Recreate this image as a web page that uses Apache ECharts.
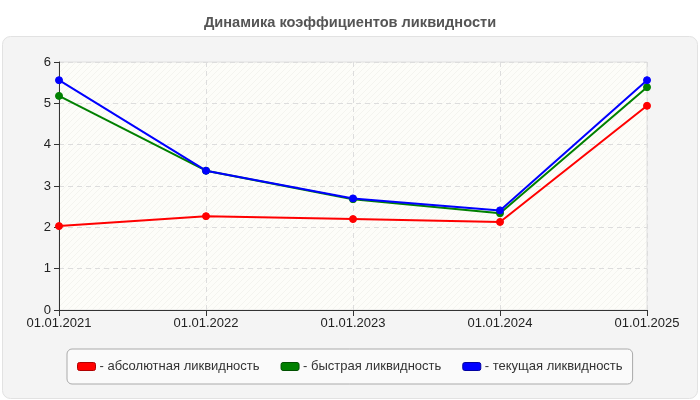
<!DOCTYPE html>
<html><head><meta charset="utf-8">
<script src="https://cdn.jsdelivr.net/npm/echarts@6/dist/echarts.min.js"></script>
<style>html,body{margin:0;padding:0;background:#fff}#c{width:700px;height:400px}</style>
</head><body><div id="c"></div>
<script>
var categories = ['01.01.2021','01.01.2022','01.01.2023','01.01.2024','01.01.2025'];
var absoluteLiq = [2.03, 2.27, 2.20, 2.13, 4.94];
var quickLiq = [5.18, 3.37, 2.68, 2.34, 5.39];
var currentLiq = [5.56, 3.37, 2.70, 2.41, 5.56];
var seriesNames = ['абсолютная ликвидность','быстрая ликвидность','текущая ликвидность'];
var seriesColors = ['#ff0000','#008000','#0000ff'];
var iconBorders = ['#b00000','#005000','#0000a0'];
var yTicks = [0,1,2,3,4,5,6];

var pc = document.createElement('canvas');
pc.width = 6; pc.height = 6;
var g = pc.getContext('2d');
g.fillStyle = '#fdfdf9'; g.fillRect(0,0,6,6);
g.strokeStyle = 'rgba(215,215,205,0.22)'; g.lineWidth = 1;
g.beginPath(); g.moveTo(0,6); g.lineTo(6,0); g.stroke();

var chart = echarts.init(document.getElementById('c'), null, {renderer:'canvas'});
var font = 'Liberation Sans, Arial, sans-serif';
function mk(i, data){
  var color = seriesColors[i];
  return {name:seriesNames[i], type:'line', data:data, symbol:'circle', symbolSize:7,
    lineStyle:{color:color, width:2}, itemStyle:{color:color, borderColor:color, borderWidth:1},
    emphasis:{disabled:true}, z:3};
}
chart.setOption({
  animation:false,
  backgroundColor:'#ffffff',
  graphic:[{type:'rect', left:2, top:36, shape:{width:695, height:362, r:8},
    style:{fill:'#f4f4f4', stroke:'#e2e2e2', lineWidth:1}, z:-10, silent:true}],
  title:{text:'Динамика коэффициентов ликвидности', left:'center', top:10,
    textStyle:{fontFamily:font, fontSize:14.6, fontWeight:'bold', color:'#555'}},
  grid:{left:59, right:53, top:62, bottom:90, show:true,
    backgroundColor:{image:pc, repeat:'repeat'}, borderColor:'#e0e0e0', borderWidth:1},
  legend:{bottom:16, left:67, width:566, padding:[11,10,11,10],
    backgroundColor:'#fafafa', borderColor:'#aaaaaa', borderWidth:1, borderRadius:5,
    itemWidth:18, itemHeight:8, itemGap:21,
    data:seriesNames.map(function(n,i){return {name:n, icon:'roundRect',
      itemStyle:{color:seriesColors[i], borderColor:iconBorders[i], borderWidth:1}};}),
    formatter:function(n){return '- ' + n;},
    textStyle:{fontFamily:font, fontSize:13, color:'#333', padding:[0,0,0,-1]}},
  xAxis:{type:'category', data:categories, boundaryGap:false,
    axisLine:{lineStyle:{color:'#333', width:1}},
    axisTick:{show:true, length:6, lineStyle:{color:'#333'}},
    axisLabel:{fontFamily:font, fontSize:13, color:'#222', margin:7},
    splitLine:{show:true, lineStyle:{color:'#dddddd', type:[5,4]}}},
  yAxis:{type:'value', min:0, max:6, interval:1,
    axisLine:{show:true, lineStyle:{color:'#333', width:1}},
    axisTick:{show:true, length:5, lineStyle:{color:'#333'}},
    axisLabel:{fontFamily:font, fontSize:13, color:'#222', margin:8,
      formatter:function(v){return yTicks.indexOf(v)>=0 ? String(v) : '';}},
    splitLine:{show:true, lineStyle:{color:'#dddddd', type:[5,4]}}},
  series:[mk(0, absoluteLiq), mk(1, quickLiq), mk(2, currentLiq)]
});
</script></body></html>
